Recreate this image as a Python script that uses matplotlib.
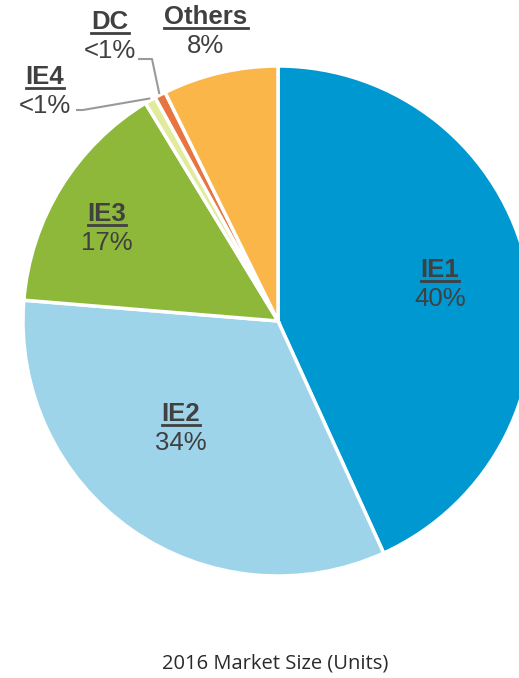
import numpy as np
import matplotlib

matplotlib.use("Agg")
import matplotlib.pyplot as plt
from matplotlib.lines import Line2D

# ------------------------------------------------------------
# 数据（从图上读出的扇区大小，标签文字照抄原图）
# ------------------------------------------------------------
segments = ["IE1", "IE2", "IE3", "IE4", "DC", "Others"]
shares = [43.2, 33.1, 15.0, 0.7, 0.7, 7.3]
pct_text = ["40%", "34%", "17%", "<1%", "<1%", "8%"]
colors = ["#0098D1", "#9DD4EA", "#8EB83A", "#E2EA9C", "#E8743F", "#FBB64A"]
title = "2016 Market Size (Units)"

W, H = 519, 678
# 标签位置（像素，y 从上往下）
label_xy = [(440, 270), (181, 414), (107, 214), (45, 77), (110, 22), (206, 17)]
LINE_GAP = 29
leader = {3: [(77, 110), (83, 110)], 4: [(139, 59), (152, 59)]}

fig = plt.figure(figsize=(W / 100, H / 100), dpi=100)
ax = fig.add_axes([0, 0, 1, 1])

cx, cy, R = 278, H - 321, 255
wedges, _ = ax.pie(shares, colors=colors, startangle=90, counterclock=False,
                   center=(cx, cy), radius=R,
                   wedgeprops=dict(edgecolor="white", linewidth=2.5))
ax.set_xlim(0, W)
ax.set_ylim(0, H)
ax.set_aspect("equal")
ax.axis("off")

txt_col = "#404040"
font = ["Liberation Sans", "DejaVu Sans"]
names = []
for i, (name, pct) in enumerate(zip(segments, pct_text)):
    x, y = label_xy[i]
    t = ax.text(x, H - y, name, ha="center", va="center", fontsize=18.5,
                fontweight="bold", color=txt_col, family=font)
    ax.text(x, H - y - LINE_GAP, pct, ha="center", va="center", fontsize=18.5,
            color=txt_col, family=font)
    names.append(t)

# 下划线
fig.canvas.draw()
rend = fig.canvas.get_renderer()
inv = ax.transData.inverted()
for t in names:
    bb = t.get_window_extent(rend)
    (x0, y0), (x1, _) = inv.transform([(bb.x0, bb.y0), (bb.x1, bb.y1)])
    ax.add_line(Line2D([x0, x1], [y0 + 1, y0 + 1], color=txt_col, lw=2))

# 引导线：连到小扇区中线外缘
for i, pts in leader.items():
    w = wedges[i]
    th = np.deg2rad((w.theta1 + w.theta2) / 2)
    ex, ey = cx + (R + 2) * np.cos(th), cy + (R + 2) * np.sin(th)
    xs = [p[0] for p in pts] + [ex]
    ys = [H - p[1] for p in pts] + [ey]
    ax.add_line(Line2D(xs, ys, color="#9a9a9a", lw=1.5))

ax.text(275, H - 663, title, ha="center", va="center", fontsize=14.5,
        color="#2a2a2a", family=["Open Sans", "DejaVu Sans"])

fig.savefig("out.png", dpi=100)
